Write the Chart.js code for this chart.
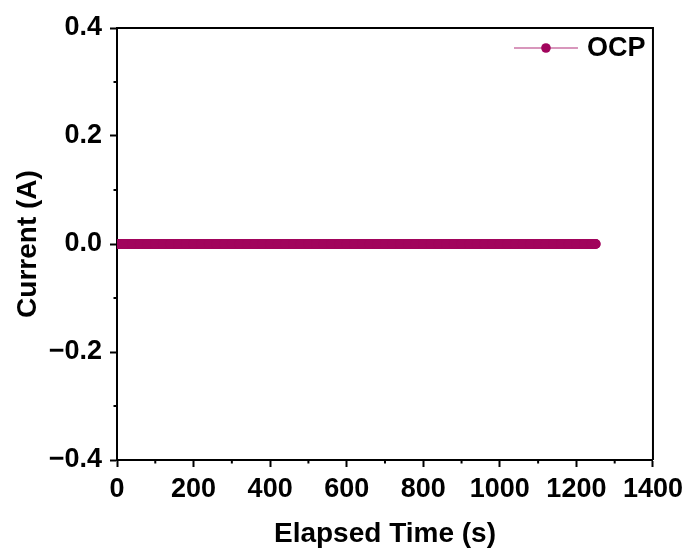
<!DOCTYPE html>
<html>
<head>
<meta charset="utf-8">
<script src="https://cdn.jsdelivr.net/npm/chart.js@4.4.1/dist/chart.umd.min.js"></script>
<style>
  html, body { margin: 0; padding: 0; background: #fff; }
  #wrap { width: 689px; height: 554px; }
</style>
</head>
<body>
<div id="wrap"><canvas id="myChart" width="689" height="554"></canvas></div>
<script>
// elapsed time (s) and current (A), OCP run
const time = [0, 20, 40, 60, 80, 100, 120, 140, 160, 180, 200, 220, 240, 260, 280, 300,
  320, 340, 360, 380, 400, 420, 440, 460, 480, 500, 520, 540, 560, 580, 600, 620,
  640, 660, 680, 700, 720, 740, 760, 780, 800, 820, 840, 860, 880, 900, 920, 940,
  960, 980, 1000, 1020, 1040, 1060, 1080, 1100, 1120, 1140, 1160, 1180, 1200, 1220, 1240, 1250]
const current = [0, 0, 0, 0, 0, 0, 0, 0, 0, 0, 0, 0, 0, 0, 0, 0,
  0, 0, 0, 0, 0, 0, 0, 0, 0, 0, 0, 0, 0, 0, 0, 0,
  0, 0, 0, 0, 0, 0, 0, 0, 0, 0, 0, 0, 0, 0, 0, 0,
  0, 0, 0, 0, 0, 0, 0, 0, 0, 0, 0, 0, 0, 0, 0, 0]
const xMinor = [100, 300, 500, 700, 900, 1100, 1300]
const yMinor = [-0.3, -0.1, 0.1, 0.3]
const seriesName = 'OCP'

const col = '#A1045C'
const fontFam = '"Liberation Sans", Arial, sans-serif'
const tickFont = { family: fontFam, size: 27, weight: 'bold' }
const titleFont = { family: fontFam, size: 28, weight: 'bold' }

// box round plot, minor ticks and legend
const frame = {
    id: 'frame',
    afterDraw(chart) {
        const ctx = chart.ctx
        const a = chart.chartArea
        ctx.save()
        ctx.strokeStyle = '#000'
        ctx.lineWidth = 2
        ctx.beginPath()
        ctx.moveTo(a.left, a.top)
        ctx.lineTo(a.right, a.top)
        ctx.lineTo(a.right, a.bottom)
        ctx.stroke()
        const xs = chart.scales.x
        const ys = chart.scales.y
        ctx.beginPath()
        xMinor.forEach(v => {
            const px = xs.getPixelForValue(v)
            ctx.moveTo(px, a.bottom)
            ctx.lineTo(px, a.bottom + 3.5)
        })
        yMinor.forEach(v => {
            const py = ys.getPixelForValue(v)
            ctx.moveTo(a.left, py)
            ctx.lineTo(a.left - 3.5, py)
        })
        ctx.stroke()

        // legend
        const ly = a.top + 20
        const lx = a.right - 139
        ctx.strokeStyle = 'rgba(161, 4, 92, 0.55)'
        ctx.lineWidth = 1.5
        ctx.beginPath()
        ctx.moveTo(lx, ly)
        ctx.lineTo(lx + 64, ly)
        ctx.stroke()
        ctx.fillStyle = col
        ctx.beginPath()
        ctx.arc(lx + 32, ly, 4.8, 0, Math.PI * 2)
        ctx.fill()
        ctx.fillStyle = '#000'
        ctx.font = 'bold 27px ' + fontFam
        ctx.textBaseline = 'middle'
        ctx.textAlign = 'left'
        ctx.fillText(seriesName, lx + 73, ly + 1)
        ctx.restore()
    }
}

const data = {
    datasets: [{
        label: seriesName,
        data: time.map((t, i) => ({ x: t, y: current[i] })),
        borderColor: col,
        backgroundColor: col,
        borderWidth: 10,
        borderCapStyle: 'round',
        pointRadius: 5,
        pointBorderWidth: 0,
        tension: 0
    }]
}

const config = {
    type: 'line',
    data: data,
    plugins: [frame],
    options: {
        responsive: false,
        animation: false,
        layout: { padding: { left: 0, top: 28, right: 33, bottom: 0 } },
        plugins: {
            tooltip: { enabled: false },
            legend: { display: false }
        },
        scales: {
            x: {
                type: 'linear',
                min: 0,
                max: 1400,
                afterFit: s => { s.height = 94 },
                border: { color: '#000', width: 2 },
                grid: { drawOnChartArea: false, tickLength: 7, tickColor: '#000', tickWidth: 2 },
                ticks: {
                    stepSize: 200, color: '#000', padding: 6, maxRotation: 0,
                    font: tickFont,
                    callback: v => String(v)
                },
                title: {
                    display: true, text: 'Elapsed Time (s)', color: '#000',
                    font: titleFont,
                    padding: { top: 4, bottom: 3 }
                }
            },
            y: {
                min: -0.4,
                max: 0.4,
                afterFit: s => { s.width = 117 },
                border: { color: '#000', width: 2 },
                grid: { drawOnChartArea: false, tickLength: 7, tickColor: '#000', tickWidth: 2 },
                ticks: {
                    stepSize: 0.2, color: '#000', padding: 8,
                    font: tickFont,
                    callback: v => (v < -1e-9 ? '\u2212' : '') + Math.abs(v).toFixed(1)
                },
                title: {
                    display: true, text: 'Current (A)', color: '#000',
                    font: titleFont,
                    padding: { top: 11, bottom: 4 }
                }
            }
        }
    }
}

const chart = new Chart(document.getElementById('myChart'), config)
</script>
</body>
</html>
